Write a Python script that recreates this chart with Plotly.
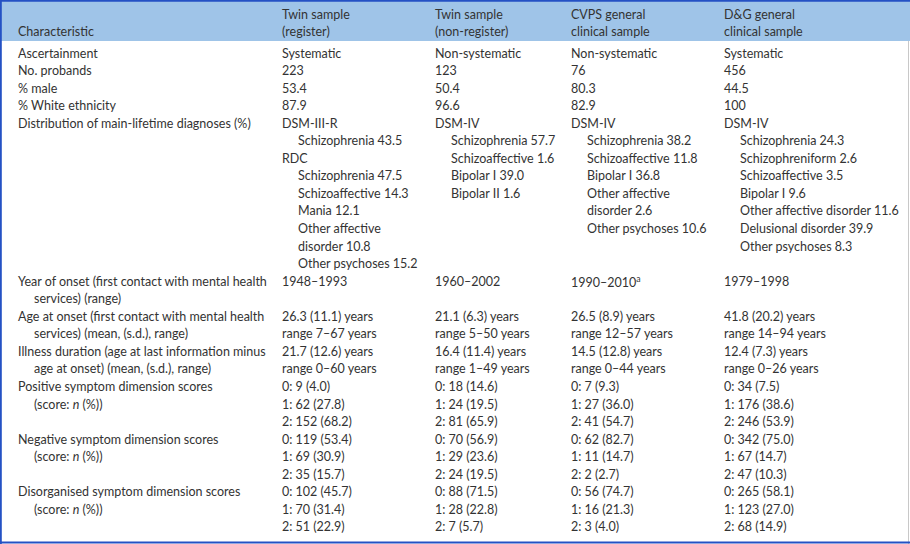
import plotly.graph_objects as go

# column headers and row labels
header_label = "Characteristic"
sample_headers = [
    ["Twin sample", "(register)"],
    ["Twin sample", "(non-register)"],
    ["CVPS general", "clinical sample"],
    ["D&G general", "clinical sample"],
]
characteristics = [
    ["Ascertainment"],
    ["No. probands"],
    ["% male"],
    ["% White ethnicity"],
    ["Distribution of main-lifetime diagnoses (%)"],
    ["Year of onset (first contact with mental health", "services) (range)"],
    ["Age at onset (first contact with mental health", "services) (mean, (s.d.), range)"],
    ["Illness duration (age at last information minus", "age at onset) (mean, (s.d.), range)"],
    ["Positive symptom dimension scores", "(score: <i>n</i> (%))"],
    ["Negative symptom dimension scores", "(score: <i>n</i> (%))"],
    ["Disorganised symptom dimension scores", "(score: <i>n</i> (%))"],
]

# values, one entry per sample (register, non-register, CVPS, D&G)
ascertainment = ["Systematic", "Non-systematic", "Non-systematic", "Systematic"]
n_probands = [223, 123, 76, 456]
pct_male = ["53.4", "50.4", "80.3", "44.5"]
pct_white = ["87.9", "96.6", "82.9", "100"]
diagnoses = [
    [("DSM-III-R", ["Schizophrenia 43.5"]),
     ("RDC", ["Schizophrenia 47.5", "Schizoaffective 14.3", "Mania 12.1",
              "Other affective", "disorder 10.8", "Other psychoses 15.2"])],
    [("DSM-IV", ["Schizophrenia 57.7", "Schizoaffective 1.6", "Bipolar I 39.0",
                 "Bipolar II 1.6"])],
    [("DSM-IV", ["Schizophrenia 38.2", "Schizoaffective 11.8", "Bipolar I 36.8",
                 "Other affective", "disorder 2.6", "Other psychoses 10.6"])],
    [("DSM-IV", ["Schizophrenia 24.3", "Schizophreniform 2.6", "Schizoaffective 3.5",
                 "Bipolar I 9.6", "Other affective disorder 11.6",
                 "Delusional disorder 39.9", "Other psychoses 8.3"])],
]
onset_years = ["1948–1993", "1960–2002", "1990–2010<sup>a</sup>", "1979–1998"]
onset_age_mean = ["26.3", "21.1", "26.5", "41.8"]
onset_age_sd = ["11.1", "6.3", "8.9", "20.2"]
onset_age_range = ["7–67", "5–50", "12–57", "14–94"]
duration_mean = ["21.7", "16.4", "14.5", "12.4"]
duration_sd = ["12.6", "11.4", "12.8", "7.3"]
duration_range = ["0–60", "1–49", "0–44", "0–26"]
positive_n = [[9, 62, 152], [18, 24, 81], [7, 27, 41], [34, 176, 246]]
positive_pct = [["4.0", "27.8", "68.2"], ["14.6", "19.5", "65.9"],
                ["9.3", "36.0", "54.7"], ["7.5", "38.6", "53.9"]]
negative_n = [[119, 69, 35], [70, 29, 24], [62, 11, 2], [342, 67, 47]]
negative_pct = [["53.4", "30.9", "15.7"], ["56.9", "23.6", "19.5"],
                ["82.7", "14.7", "2.7"], ["75.0", "14.7", "10.3"]]
disorg_n = [[102, 70, 51], [88, 28, 7], [56, 16, 3], [265, 123, 68]]
disorg_pct = [["45.7", "31.4", "22.9"], ["71.5", "22.8", "5.7"],
              ["74.7", "21.3", "4.0"], ["58.1", "27.0", "14.9"]]

# layout constants
W, H = 910, 544
label_x = 16
col_x = [280, 433, 569, 722]
indent = 16
first_line = 53
line_h = 17.55
header_y = [14, 31]
text_color = "#333333"
font = dict(family="Lato", size=12.5, color=text_color)

annotations = []


def put(x, y, text):
    annotations.append(dict(x=x, y=y, xref="x", yref="y", text=text, showarrow=False,
                            xanchor="left", yanchor="middle", font=font))


def cell_lines(i):
    # every body cell of sample i as a list of (text, indented) lines
    diag = []
    for system, items in diagnoses[i]:
        diag.append((system, False))
        diag += [(t, True) for t in items]
    scores = []
    for ns, ps in [(positive_n, positive_pct), (negative_n, negative_pct), (disorg_n, disorg_pct)]:
        scores.append([(f"{k}: {ns[i][k]} ({ps[i][k]})", False) for k in range(3)])
    return [
        [(ascertainment[i], False)],
        [(str(n_probands[i]), False)],
        [(pct_male[i], False)],
        [(pct_white[i], False)],
        diag,
        [(onset_years[i], False)],
        [(f"{onset_age_mean[i]} ({onset_age_sd[i]}) years", False),
         (f"range {onset_age_range[i]} years", False)],
        [(f"{duration_mean[i]} ({duration_sd[i]}) years", False),
         (f"range {duration_range[i]} years", False)],
    ] + scores


cells = [cell_lines(i) for i in range(4)]

# header
put(label_x, header_y[1], header_label)
for i, lines in enumerate(sample_headers):
    for j, t in enumerate(lines):
        put(col_x[i], header_y[j], t)

# body, row heights from the tallest cell
line = 0
for r, label in enumerate(characteristics):
    for j, t in enumerate(label):
        put(label_x + (indent if j > 0 else 0), first_line + (line + j) * line_h, t)
    height = len(label)
    for i in range(4):
        for j, (t, ind) in enumerate(cells[i][r]):
            put(col_x[i] + (indent if ind else 0), first_line + (line + j) * line_h, t)
        height = max(height, len(cells[i][r]))
    line += height

border_blue = "#2451c4"
shapes = [
    dict(type="rect", xref="x", yref="y", x0=0, x1=W, y0=0, y1=41,
         fillcolor="#9fc4e8", line=dict(width=0), layer="below"),
    dict(type="line", xref="x", yref="y", x0=908.5, x1=908.5, y0=41, y1=H,
         line=dict(color="#c8c8c8", width=1)),
    dict(type="line", xref="x", yref="y", x0=0, x1=W, y0=0.8, y1=0.8,
         line=dict(color=border_blue, width=2)),
    dict(type="line", xref="x", yref="y", x0=0, x1=W, y0=542.5, y1=542.5,
         line=dict(color=border_blue, width=2)),
    dict(type="line", xref="x", yref="y", x0=0.8, x1=0.8, y0=0, y1=H,
         line=dict(color=border_blue, width=2)),
]

fig = go.Figure()
fig.update_layout(
    width=W, height=H, margin=dict(l=0, r=0, t=0, b=0),
    paper_bgcolor="white", plot_bgcolor="rgba(0,0,0,0)",
    xaxis=dict(range=[0, W], visible=False, fixedrange=True),
    yaxis=dict(range=[H, 0], visible=False, fixedrange=True),
    annotations=annotations, shapes=shapes, showlegend=False,
)
fig.write_html("out.html", config=dict(displayModeBar=False),
               post_script="document.body.style.margin='0';")
